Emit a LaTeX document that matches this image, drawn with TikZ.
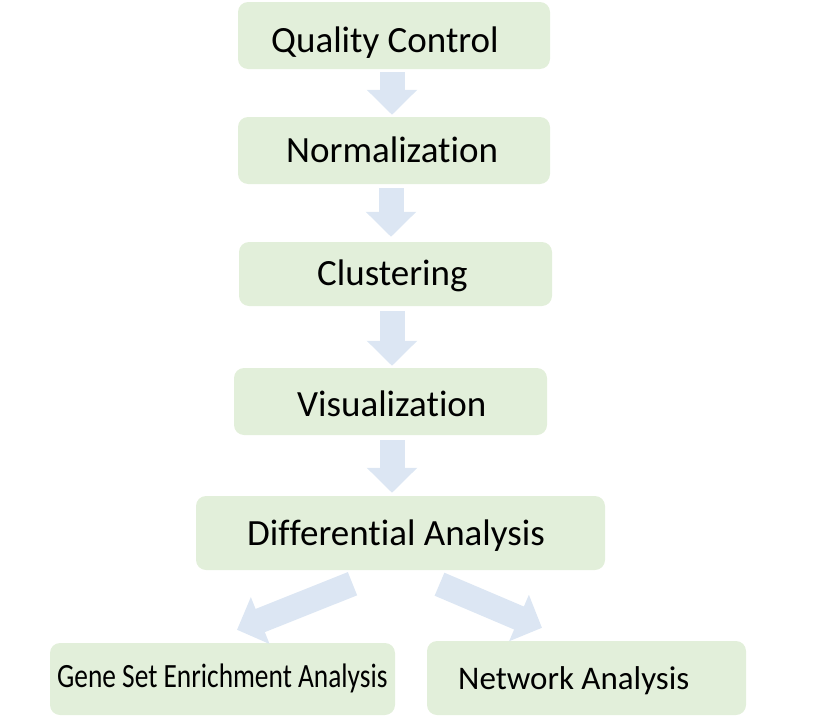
\documentclass[tikz,border=0pt]{standalone}
\usepackage{fontspec}
\setmainfont{Carlito}[Ligatures={NoCommon,NoContextual}, RawFeature=-liga]
\usetikzlibrary{arrows.meta,calc}
\definecolor{stagegreen}{HTML}{E2EFDA}
\definecolor{flowblue}{HTML}{DCE6F3}
% break a ligature between two letters
\newcommand{\nolig}{\kern0pt\relax}
\tikzset{
  stage/.style={fill=stagegreen, rounded corners=10pt, inner sep=0pt, draw=none},
  lbl/.style={inner sep=0pt, anchor=base west, font=\fontsize{37}{44}\selectfont},
  lblsmall/.style={inner sep=0pt, anchor=base west, font=\fontsize{34}{40}\selectfont, xscale=0.805},
  lblmid/.style={inner sep=0pt, anchor=base west, font=\fontsize{33}{40}\selectfont},
  flow/.style={draw=flowblue, line width=25pt, line cap=butt,
    -{Triangle[length=25pt, width=49pt]}}
}
\begin{document}
\begin{tikzpicture}[x=1pt, y=-1pt]
  \useasboundingbox (0,0) rectangle (831,723);

  % stage boxes
  \node[stage, minimum width=312pt, minimum height=67pt] (qc)    at (394,35.5)  {};
  \node[stage, minimum width=312pt, minimum height=67pt] (norm)  at (394,150.5) {};
  \node[stage, minimum width=313pt, minimum height=64pt] (clust) at (395.5,274) {};
  \node[stage, minimum width=313pt, minimum height=67pt] (vis)   at (390.5,401.5) {};
  \node[stage, minimum width=409pt, minimum height=74pt] (diff)  at (400.5,533) {};
  \node[stage, minimum width=345pt, minimum height=72pt] (gsea)  at (222.5,679) {};
  \node[stage, minimum width=319pt, minimum height=74pt] (net)   at (586.5,678) {};

  % labels
  \node[lbl]      (qct)    at (271,52)  {Quality Control};
  \node[lbl]      (normt)  at (286,162) {Normalizat\nolig ion};
  \node[lbl]      (clustt) at (317,285) {Clustering};
  \node[lbl]      (vist)   at (297,416) {Visualizat\nolig ion};
  \node[lbl]      (difft)  at (247,545) {Dif\nolig ferent\nolig ial Analysis};
  \node[lblsmall] (gseat)  at (57,687)  {Gene Set Enrichment Analysis};
  \node[lblmid]   (nett)   at (458,689) {Network Analysis};

  % block arrows between stages
  \draw[flow] ($(qc.south)+(-2,3)$)      -- ($(norm.north)+(-2,-2)$);
  \draw[flow] ($(norm.south)+(-3,4)$)    -- ($(clust.north)+(-4.5,-5)$);
  \draw[flow] ($(clust.south)+(-3.5,5)$) -- ($(vis.north)+(1.5,-2)$);
  \draw[flow] ($(vis.south)+(1.5,5)$)    -- ($(diff.north)+(-8.5,-3)$);
  \draw[flow] ($(diff.south)+(-48,13.5)$) -- ($(gsea.north)+(14.5,-13)$);
  \draw[flow] ($(diff.south)+(39,14)$)    -- ($(net.north)+(-44.5,-13)$);
\end{tikzpicture}
\end{document}
